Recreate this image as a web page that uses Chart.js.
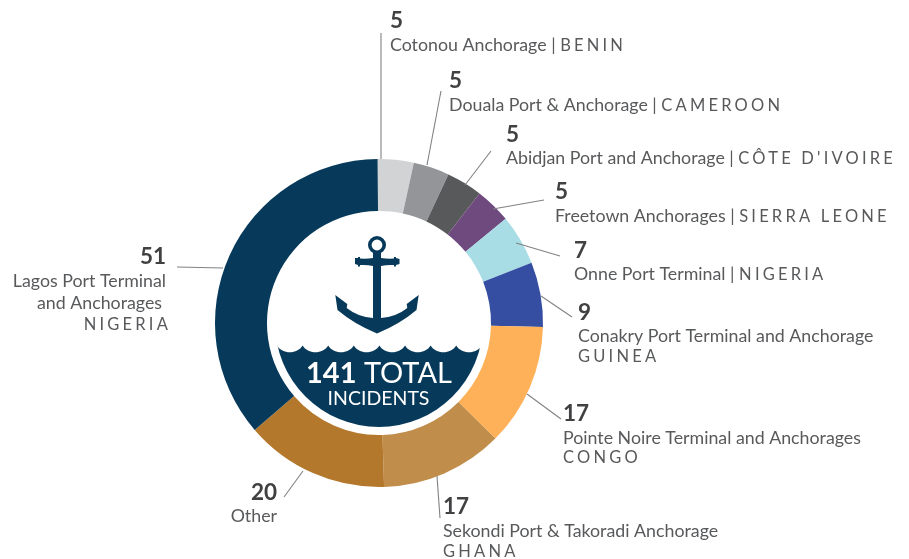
<!DOCTYPE html>
<html><head><meta charset="utf-8">
<style>html,body{margin:0;padding:0;background:#fff}canvas{display:block}</style>
<script src="https://cdn.jsdelivr.net/npm/chart.js@4"></script></head>
<body><canvas id="c" width="909" height="559"></canvas>
<script>
const categories = ["Cotonou Anchorage","Douala Port & Anchorage","Abidjan Port and Anchorage","Freetown Anchorages","Onne Port Terminal","Conakry Port Terminal and Anchorage","Pointe Noire Terminal and Anchorages","Sekondi Port & Takoradi Anchorage","Other","Lagos Port Terminal and Anchorages"];
const incidents = [5,5,5,5,7,9,17,17,20,51];
const colors = ["#d1d3d4","#939598","#58595b","#6e4a7e","#a8dde6","#354ea1","#feb158","#c08d4b","#b4782c","#073a5a"];
const valueLabels = ["5","5","5","5","7","9","17","17","20","51"];
const INK="#414042", LINE="#808285", NAVY="#073a5a";
const FONT='Lato, "Noto Sans", sans-serif';
const labelLayout = [
 {x:390,vy:28,lines:[{y:51,parts:[["Cotonou Anchorage | ",0],["BENIN",1]]}]},
 {x:449,vy:88,lines:[{y:111,parts:[["Douala Port & Anchorage | ",0],["CAMEROON",1]]}]},
 {x:506,vy:142,lines:[{y:164,parts:[["Abidjan Port and Anchorage | ",0],["CÔTE D'IVOIRE",1]]}]},
 {x:555,vy:199,lines:[{y:222,parts:[["Freetown Anchorages | ",0],["SIERRA LEONE",1]]}]},
 {x:574,vy:258,lines:[{y:280,parts:[["Onne Port Terminal | ",0],["NIGERIA",1]]}]},
 {x:578,vy:320,lines:[{y:342,parts:[["Conakry Port Terminal and Anchorage",0]]},{y:362,parts:[["GUINEA",1]]}]},
 {x:563,vy:421,lines:[{y:444,parts:[["Pointe Noire Terminal and Anchorages",0]]},{y:463,parts:[["CONGO",1]]}]},
 {x:443,vy:514,lines:[{y:537,parts:[["Sekondi Port & Takoradi Anchorage",0]]},{y:557,parts:[["GHANA",1]]}]},
 {x:277,vy:500,right:true,lines:[{y:522,parts:[["Other",0]]}]},
 {x:166,vy:264,right:true,lines:[{y:287,parts:[["Lagos Port Terminal",0]]},{y:309,x:162,parts:[["and Anchorages",0]]},{y:330,x:171,parts:[["NIGERIA",1]]}]}
];
const leaderEnds = [[381,33],[441,91],[491,151],[544,200],[560,256],[572,317],[561,419],[440,518],[303,471],[177,267]];
const leaderStarts = [[381,159],[427,165],[465,185],[493,209],[516,243],[541,296],[527,394],[437,476],[284,497],[223,268]];

const labelsPlugin = {
 id:'labels',
 afterDraw(chart){
  const ctx=chart.ctx; ctx.save();
  ctx.strokeStyle=LINE; ctx.lineWidth=1.1;
  leaderEnds.forEach((e,i)=>{const s=leaderStarts[i];ctx.beginPath();ctx.moveTo(s[0],s[1]);ctx.lineTo(e[0],e[1]);ctx.stroke();});
  ctx.textBaseline='alphabetic';
  const seg=(t,sp)=>{ctx.font=(sp?'400 16.5px ':'400 17.8px ')+FONT;ctx.letterSpacing=sp?'3.2px':'0px';return ctx.measureText(t).width;};
  labelLayout.forEach((l,i)=>{
   ctx.fillStyle=INK; ctx.font='700 22.5px '+FONT; ctx.letterSpacing='0px';
   ctx.textAlign=l.right?'right':'left';
   ctx.fillText(valueLabels[i],l.x,l.vy);
   ctx.textAlign='left'; ctx.fillStyle='#58595b';
   l.lines.forEach(line=>{
    let total=0; line.parts.forEach(p=>total+=seg(p[0],p[1]));
    const base=line.x!==undefined?line.x:l.x;
    let x=l.right?base-total:base;
    line.parts.forEach(p=>{const w=seg(p[0],p[1]);ctx.fillText(p[0],x,line.y);x+=w;});
   });
  });
  ctx.letterSpacing='0px';
  ctx.restore();
 }
};
const centerPlugin = {
 id:'center',
 afterDraw(chart){
  const ctx=chart.ctx, a=chart.getDatasetMeta(0).data[0], cx=a.x, cy=a.y;
  ctx.save();
  const r=104, startX=277, n=8, step=25.6, topY=345.5;
  ctx.save();
  const clip=new Path2D();clip.arc(cx,cy,r,0,Math.PI*2);ctx.clip(clip);
  ctx.beginPath();
  ctx.moveTo(startX,topY);
  for(let i=0;i<n;i++){const x0=startX+i*step;ctx.bezierCurveTo(x0+step*.2,topY+9,x0+step*.8,topY+9,x0+step,topY);}
  ctx.lineTo(520,topY+3);ctx.lineTo(520,440);ctx.lineTo(240,440);ctx.lineTo(240,topY);ctx.closePath();
  ctx.fillStyle=NAVY;ctx.fill();
  ctx.restore();
  // anchor
  ctx.fillStyle=NAVY;
  ctx.beginPath();ctx.arc(377,245,9,0,Math.PI*2);ctx.arc(377,245,5.4,0,Math.PI*2,true);ctx.fill('evenodd');
  ctx.fillRect(373,253,8,70);
  ctx.beginPath();
  ctx.moveTo(355,258);ctx.lineTo(358,258);ctx.lineTo(358,257);ctx.lineTo(360,257);ctx.lineTo(360,258.5);
  ctx.quadraticCurveTo(367,259,373,258);ctx.lineTo(381,258);ctx.quadraticCurveTo(388,259,394,258.5);
  ctx.lineTo(394,257);ctx.lineTo(396,257);ctx.lineTo(396,258);ctx.lineTo(399.5,259);ctx.lineTo(399.5,264);ctx.lineTo(396,265);
  ctx.lineTo(396,266.5);ctx.lineTo(394,266.5);ctx.lineTo(394,265);ctx.quadraticCurveTo(387,264.5,381,266);ctx.lineTo(373,266);
  ctx.quadraticCurveTo(367,264.5,360,265);ctx.lineTo(360,266.5);ctx.lineTo(358,266.5);ctx.lineTo(358,265);ctx.lineTo(355,264);ctx.closePath();ctx.fill();
  ctx.beginPath();
  ctx.moveTo(377,333.5);
  ctx.quadraticCurveTo(354,324,337.5,310);
  ctx.lineTo(335.3,295);ctx.lineTo(347.3,304);ctx.lineTo(346.7,308);
  ctx.quadraticCurveTo(358,317,373,318);ctx.lineTo(381,318);
  ctx.quadraticCurveTo(396,317,407.3,308);ctx.lineTo(406.7,304);ctx.lineTo(418.7,295);ctx.lineTo(416.5,310);
  ctx.quadraticCurveTo(400,324,377,333.5);ctx.closePath();ctx.fill();
  // centre text
  ctx.fillStyle='#fff';ctx.textBaseline='alphabetic';ctx.textAlign='left';
  ctx.font='700 29px '+FONT;const w1=ctx.measureText('141').width;
  ctx.font='400 29px '+FONT;const w2=ctx.measureText(' TOTAL').width;
  let tx=379-(w1+w2)/2;
  ctx.font='700 29px '+FONT;ctx.fillText('141',tx,383);
  ctx.font='400 29px '+FONT;ctx.fillText(' TOTAL',tx+w1,383);
  ctx.font='400 19.5px '+FONT;ctx.textAlign='center';ctx.fillText('INCIDENTS',378.5,405);
  ctx.restore();
 }
};
new Chart(document.getElementById('c'),{
 type:'doughnut',
 data:{labels:categories,datasets:[{data:incidents,backgroundColor:colors,borderWidth:0}]},
 options:{responsive:false,animation:false,cutout:'68.3%',rotation:-0.5,
  layout:{padding:{left:215,top:159,right:366,bottom:72}},
  plugins:{legend:{display:false},tooltip:{enabled:false}}},
 plugins:[labelsPlugin,centerPlugin]
});
</script></body></html>
